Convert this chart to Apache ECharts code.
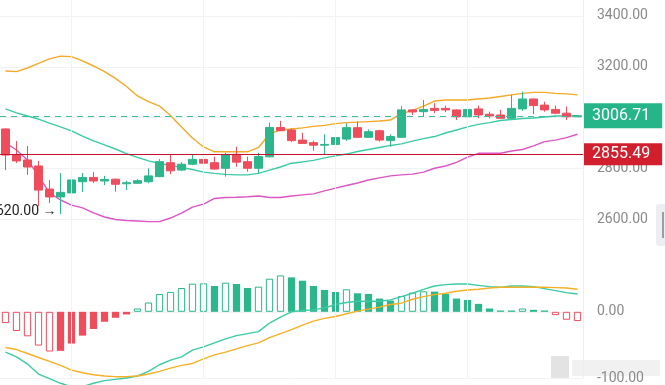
<!DOCTYPE html>
<html><head><meta charset="utf-8">
<script src="https://cdn.jsdelivr.net/npm/echarts@6/dist/echarts.min.js"></script>
<style>html,body{margin:0;padding:0;background:#fff;overflow:hidden}#c{width:665px;height:385px}</style>
</head><body><div id="c"></div>
<script>
// ---- data ----
const categories = ['D1','D2','D3','D4','D5','D6','D7','D8','D9','D10','D11','D12','D13','D14','D15','D16','D17','D18','D19','D20','D21','D22','D23','D24','D25','D26','D27','D28','D29','D30','D31','D32','D33','D34','D35','D36','D37','D38','D39','D40','D41','D42','D43','D44','D45','D46','D47','D48','D49','D50','D51','D52','D53'];
// [open, close, low, high]
const candleOHLC = [
 [2955,2852,2793,2957],[2852,2829,2821,2907],[2833,2805,2774,2888],[2809,2714,2651,2829],[2718,2687,2663,2754],
 [2687,2705,2620,2781],[2703,2754,2683,2806],[2747,2764,2707,2781],[2764,2750,2742,2785],[2750,2756,2734,2770],
 [2757,2737,2708,2760],[2739,2743,2714,2751],[2741,2751,2740,2757],[2747,2770,2741,2800],[2767,2826,2765,2836],
 [2822,2790,2777,2856],[2793,2816,2790,2824],[2816,2835,2812,2852],[2835,2820,2787,2846],[2822,2797,2795,2846],
 [2800,2852,2767,2861],[2855,2824,2806,2885],[2826,2800,2787,2846],[2800,2846,2780,2861],[2845,2961,2843,2980],
 [2961,2948,2947,2987],[2951,2909,2904,2957],[2911,2898,2896,2940],[2901,2891,2869,2909],[2891,2894,2856,2934],
 [2894,2921,2875,2957],[2915,2960,2908,2977],[2960,2922,2920,2984],[2922,2944,2920,2953],[2948,2911,2905,2952],
 [2909,2925,2885,2934],[2922,3030,2920,3045],[3030,3022,3010,3033],[3023,3032,3003,3069],[3036,3028,3017,3056],
 [3036,3030,3021,3047],[3030,3003,2990,3032],[3003,3032,3000,3039],[3034,3010,2997,3047],[3013,3006,2997,3023],
 [3010,2997,2995,3030],[2997,3036,2995,3089],[3034,3073,3026,3102],[3073,3047,3013,3075],[3049,3030,3023,3062],
 [3032,3017,3013,3047],[3017,3003,2990,3043],[3003,3006.71,3002,3008]
];
const bollUpper = [3183,3181,3195,3213,3231,3242,3240,3223,3203,3181,3154,3122,3085,3063,3045,3008,2963,2919,2884,2865,2865,2865,2865,2882,2935,2951,2955,2959,2965,2969,2976,2980,2982,2984,2986,2990,3016,3028,3045,3065,3069,3069,3069,3073,3077,3083,3089,3095,3099,3099,3095,3093,3089];
const bollMid = [3034,3018,3006,2994,2978,2963,2947,2927,2908,2892,2876,2858,2843,2829,2819,2811,2803,2795,2785,2780,2776,2774,2774,2780,2793,2805,2820,2825,2831,2841,2849,2856,2866,2874,2882,2890,2896,2907,2917,2925,2939,2951,2963,2973,2980,2988,2992,2996,2998,3002,3006,3006,3007];
const bollLower = [2900,2872,2833,2770,2703,2675,2655,2644,2624,2608,2598,2594,2592,2590,2590,2604,2623,2647,2659,2681,2685,2686,2688,2691,2685,2685,2691,2695,2699,2711,2722,2732,2742,2754,2762,2770,2774,2777,2785,2800,2809,2823,2844,2859,2859,2859,2868,2874,2888,2905,2911,2921,2934];
const macdHist = [-17,-29,-37,-51,-60,-59,-48,-36,-26,-15,-9,-4,5,14,27,30,36,42.5,43,39,44,42,36,38,50,55,52,47,39,33,30,34,28,27,20,17,24,29,31,30.5,27,20,18,12,5,2,2,5,3,2,-5,-12,-14];
const macdDIF = [-61,-68,-79,-94,-101,-108,-113,-113,-108,-104,-102,-100,-97,-90,-80,-73,-68,-58,-53,-47,-41,-36,-33,-30,-17,-8,0,2,3,6,11,14,16,16,16,18,23,28,34,39,41,42,42,40,38,37,39,39,38,35,32,29,27];
const macdDEA = [-54,-57,-63,-69,-75,-81,-88,-92,-95,-97,-98,-98,-97,-94,-90,-85,-81,-78,-71,-65,-61,-56,-51,-47,-39,-33,-27,-20,-14,-10,-7,-3,1,4,7,11,13,19,23,26,28,31,33,34,36,37,37,37,37,37,36.5,36,34];
const lastPrice = 3006.71;
const refPrice = 2855.49;
const lowIndex = 5;
const lowValue = 2620.00;
const priceAxis = {min: 2400, max: 3463, step: 200};
const macdAxis = {min: -100, max: 81, step: 100};
const gridLineIdx = [6, 18, 30, 42];

// ---- chart ----
const UP = '#2bb68b', DOWN = '#ef4d5c';
const FONT = 'Roboto';
const chart = echarts.init(document.getElementById('c'), null, {renderer: 'canvas'});

const histData = macdHist.map((v, i) => {
  const prev = i > 0 ? macdHist[i - 1] : 0;
  const hollow = v >= 0 ? v > prev : v < prev;
  const c = v >= 0 ? UP : DOWN;
  return {value: v, itemStyle: hollow ? {color: '#ffffff', borderColor: c, borderWidth: 1} : {color: c, borderColor: c, borderWidth: 0}};
});

const vLines = () => ({
  silent: true, symbol: 'none', animation: false,
  label: {show: false},
  lineStyle: {color: '#f1f2f4', width: 1, type: 'solid'},
  data: gridLineIdx.map(i => ({xAxis: i}))
});

const lineS = (name, data, color, xi, yi, extra) => Object.assign({
  name, type: 'line', data, xAxisIndex: xi, yAxisIndex: yi, symbol: 'none', showSymbol: false,
  lineStyle: {color, width: 1.4}, itemStyle: {color}, animation: false, z: 3
}, extra || {});

const vLineItem = i => ({xAxis: i, lineStyle: {color: '#f1f2f4', width: 1, type: 'solid'}, label: {show: false}});

chart.setOption({
  animation: false,
  backgroundColor: '#ffffff',
  grid: [
    {left: -2, right: 82, top: 0, height: 269.8},
    {left: -2, right: 82, top: 258.2, bottom: 3.7}
  ],
  xAxis: [0, 1].map(g => ({
    type: 'category', data: categories, gridIndex: g, boundaryGap: true,
    axisLine: {show: false}, axisTick: {show: false}, axisLabel: {show: false}, splitLine: {show: false}
  })),
  yAxis: [
    {type: 'value', gridIndex: 0, position: 'right', min: priceAxis.min, max: priceAxis.max, interval: priceAxis.step,
     axisLine: {show: true, lineStyle: {color: '#eceef1'}}, axisTick: {show: false},
     axisLabel: {showMaxLabel: false, showMinLabel: false, margin: 14, color: '#8a8a8a', fontSize: 14, fontFamily: FONT,
       formatter: v => v.toFixed(2)},
     splitLine: {show: true, showMaxLine: false, showMinLine: false, lineStyle: {color: '#f1f2f4'}}},
    {type: 'value', gridIndex: 1, position: 'right', min: macdAxis.min, max: macdAxis.max, interval: macdAxis.step,
     axisLine: {show: true, lineStyle: {color: '#eceef1'}}, axisTick: {show: false},
     axisLabel: {showMaxLabel: false, margin: 14, color: '#8a8a8a', fontSize: 14, fontFamily: FONT,
       formatter: v => v.toFixed(2)},
     splitLine: {show: true, showMaxLine: false, lineStyle: {color: '#f1f2f4'}}}
  ],
  series: [
    {
      name: 'K', type: 'candlestick', data: candleOHLC, xAxisIndex: 0, yAxisIndex: 0, barWidth: '70%', z: 4,
      itemStyle: {color: UP, color0: DOWN, borderColor: UP, borderColor0: DOWN, borderWidth: 1},
      markLine: {
        silent: true, symbol: 'none', animation: false,
        data: gridLineIdx.map(vLineItem).concat([
          {yAxis: refPrice, lineStyle: {color: '#c8102e', width: 1.2, type: 'solid'},
           label: {show: true, position: 'end', distance: 1, formatter: refPrice.toFixed(2), color: '#fff', fontSize: 16, fontFamily: FONT,
             backgroundColor: '#d11f2e', padding: [3, 12, 3, 8], lineHeight: 16}},
          {yAxis: lastPrice, lineStyle: {color: '#3dbf9c', width: 1.2, type: [6, 5]},
           label: {show: true, position: 'end', distance: 1, formatter: lastPrice.toFixed(2), color: '#fff', fontSize: 16, fontFamily: FONT,
             backgroundColor: '#26b589', padding: [5, 12, 4, 8], lineHeight: 16}}
        ])
      },
      markPoint: {
        symbol: 'circle', symbolSize: 0, animation: false, silent: true,
        data: [{coord: [lowIndex, lowValue], value: lowValue,
          label: {show: true, position: 'left', distance: 4, offset: [0, -2], formatter: lowValue.toFixed(2) + ' →',
            color: '#222', fontSize: 14, fontFamily: FONT}}]
      }
    },
    lineS('UP', bollUpper, '#f5a927', 0, 0),
    lineS('MID', bollMid, '#3ccaa6', 0, 0),
    lineS('DN', bollLower, '#dd55c3', 0, 0),
    {name: 'MACD', type: 'bar', data: histData, xAxisIndex: 1, yAxisIndex: 1, barWidth: '66%', z: 2, markLine: vLines()},
    lineS('DIF', macdDIF, '#3ccaa6', 1, 1, {clip: false}),
    lineS('DEA', macdDEA, '#f5b025', 1, 1, {clip: false})
  ],
  graphic: [
    {type: 'rect', shape: {x: 656, y: 204, width: 14, height: 42, r: 3}, style: {fill: '#eceef1'}, silent: true},
    {type: 'rect', shape: {x: 662, y: 212, width: 2, height: 26}, style: {fill: '#9a9da3'}, silent: true},
    {type: 'rect', shape: {x: 551, y: 356, width: 18, height: 22}, style: {fill: '#e3e3e3'}, silent: true},
    {type: 'rect', shape: {x: 572, y: 360, width: 88, height: 16}, style: {fill: '#f1f1f1'}, silent: true}
  ]
});
</script></body></html>
